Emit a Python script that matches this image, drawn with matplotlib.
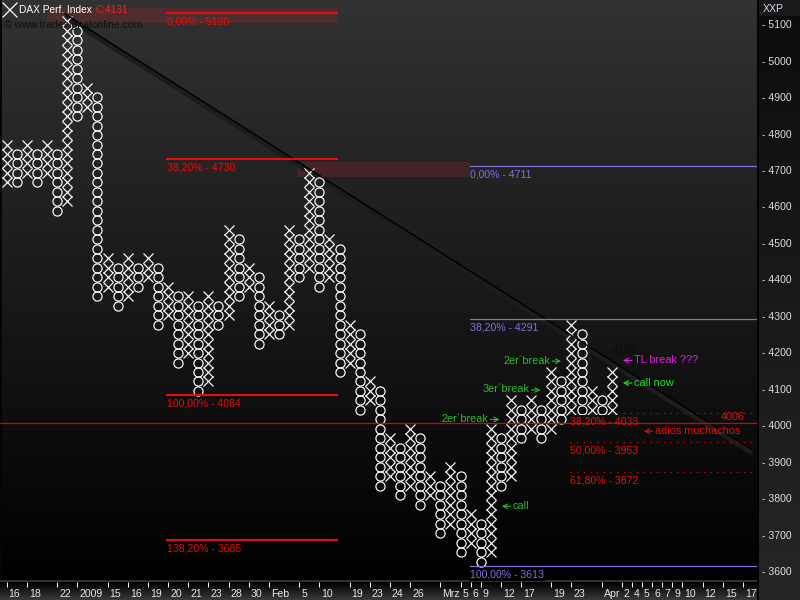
import numpy as np
import matplotlib
matplotlib.use("Agg")
import matplotlib.pyplot as plt
import matplotlib.transforms as mtransforms
from matplotlib.patches import Rectangle
from matplotlib.text import OffsetFrom

plt.rcParams['font.family'] = ['Liberation Sans', 'DejaVu Sans']

# ---------------- data ----------------
BOX = 26            # box size in index points
BASE = 3626         # price of box index 0
col_type = "XOXOXOXOXOXOXOXOXOXOXOXOXOXOXOXOXOXOXOXOXOXOXOXOXOXOXOXOXOXOX"
col_low = [40, 40, 41, 40, 41, 37, 38, 47, 48, 28,
           29, 27, 28, 29, 30, 25, 26, 21, 22, 18,
           19, 25, 26, 28, 29, 23, 24, 24, 25, 30,
           31, 29, 30, 20, 21, 16, 17, 8, 9, 7,
           8, 6, 7, 3, 4, 1, 2, 0, 1, 8,
           9, 13, 14, 13, 14, 15, 16, 15, 16, 15,
           16]
col_high = [44, 43, 44, 43, 44, 43, 57, 56, 50, 49,
            32, 31, 32, 31, 32, 31, 29, 28, 28, 27,
            28, 27, 35, 34, 31, 30, 27, 26, 35, 34,
            41, 40, 34, 33, 25, 24, 19, 18, 13, 12,
            14, 13, 9, 8, 10, 9, 5, 4, 14, 13,
            17, 16, 17, 16, 20, 19, 25, 24, 18, 17,
            20]

xtick_cols = [0, 2, 5, 7, 10, 12, 14, 16, 18, 20, 22, 24, 26, 29, 31, 34, 36, 38,
              40, 43, 45, 46, 47, 49, 51, 54, 56, 59, 61, 62, 63, 64, 65, 66, 67,
              69, 71, 73]
xtick_labels = ["16", "18", "22", "2009", "15", "16", "19", "20", "21", "23", "28",
                "30", "Feb", "5", "10", "19", "23", "24", "26", "Mrz", "5", "6", "9",
                "12", "17", "19", "23", "Apr", "2", "4", "5", "6", "7", "9", "10",
                "12", "15", "17"]
ytick_values = list(range(3600, 5101, 100))

red_fib_levels = [5130, 4730, 4084, 3685]
red_fib_pcts = ["0,00%", "38,20%", "100,00%", "138,20%"]
blue_fib_levels = [4711, 4291, 3613]
blue_fib_pcts = ["0,00%", "38,20%", "100,00%"]
dot_fib_levels = [4033, 3953, 3872]
dot_fib_pcts = ["38,20%", "50,00%", "61,80%"]
support_level = 4006
trend_cols = [5.8, 73.9]
trend_prices = [5128, 3932]
zone_lows = [5103, 4681]
zone_highs = [5145, 4722]

# ---------------- layout ----------------
W, H = 800, 600
PLOT_R, PLOT_B = 757, 582
X0, DX = 6.7, 10.085          # px of column 0, px per column
PY3600, SC = 571.0, 0.3645    # px of 3600, px per point

red_span = (15.9, 32.75)
blue_span = (45.94, (PLOT_R - X0) / DX)
dot_span = (55.9, (PLOT_R - X0) / DX)
zone_spans = [(4.0, 32.75), (28.8, 45.94)]

def bg_val(py):
    return max(0.0, 50 * (1 - py / 580.0)) / 255.0

def price_py(p):
    return PY3600 - (p - 3600) * SC

fig = plt.figure(figsize=(8, 6), dpi=100)

# background image (plot gradient + axis panels)
img = np.zeros((H, W, 3))
rows = np.arange(H)
pv = np.clip(50 * (1 - rows / 580.0), 0, 255) / 255.0
img[:580, :PLOT_R, :] = pv[:580, None, None]
img[:580, 0:2, :] = 0.02
img[:, PLOT_R:PLOT_R + 2, :] = 0.0
rv = (12 + 26 * rows / 600.0) / 255.0
img[:, PLOT_R + 2:, :] = rv[:, None, None]
img[0:16, PLOT_R + 2:, :] = 0.10
img[580:582, :PLOT_R, :] = 0.19
bv = (60 * (rows[582:] - 582) / 18.0) / 255.0
img[582:, :PLOT_R, :] = bv[:, None, None]
fig.figimage(img, xo=0, yo=0, origin='upper', zorder=-5)

ax = fig.add_axes([0, (H - PLOT_B) / H, PLOT_R / W, PLOT_B / H])
ax.set_zorder(1)
ax.set_facecolor('none')
for s in ax.spines.values():
    s.set_visible(False)
ax.set_xlim(-X0 / DX, (PLOT_R - X0) / DX)
ax.set_ylim(3600 - (PLOT_B - PY3600) / SC, 3600 + PY3600 / SC)

# zones
for (c0, c1), lo, hi in zip(zone_spans, zone_lows, zone_highs):
    ax.add_patch(Rectangle((c0, lo), c1 - c0, hi - lo, facecolor=(0.6, 0.15, 0.15),
                           alpha=0.28, edgecolor='none', zorder=1))

# trendline shadow + line
shadow = ax.transData + mtransforms.ScaledTranslation(0, -0.03, fig.dpi_scale_trans)
ax.plot(trend_cols, trend_prices, color='#1c1c1c', lw=3.5, transform=shadow,
        zorder=2, solid_capstyle='butt')

# P&F boxes
xs_x, ys_x, xs_o, ys_o = [], [], [], []
for i, t in enumerate(col_type[:len(col_low)]):
    for k in range(col_low[i], col_high[i] + 1):
        if t == 'X':
            xs_x.append(i); ys_x.append(BASE + BOX * k)
        else:
            xs_o.append(i); ys_o.append(BASE + BOX * k)
ax.plot(xs_x, ys_x, ls='none', marker='x', ms=6.8, mew=0.85, color='white', zorder=3)
ax.plot(xs_o, ys_o, ls='none', marker='o', ms=6.6, mew=0.85, mfc='none',
        mec='white', zorder=3)

ax.plot(trend_cols, trend_prices, color='black', lw=1.0, zorder=4)

RED = '#e80c0c'
PURPLE = '#7f70dc'
lab_off = mtransforms.ScaledTranslation(0, -0.035, fig.dpi_scale_trans)

def fib_label(x, lvl, txt, color, box=True):
    kw = {}
    if box:
        kw['bbox'] = dict(facecolor=[bg_val(price_py(lvl) + 9)] * 3, edgecolor='none',
                          pad=1.0)
    ax.text(x, lvl, txt, color=color, fontsize=7.6, ha='left', va='top',
            transform=ax.transData + lab_off, zorder=5, **kw)

for lvl, pct in zip(red_fib_levels, red_fib_pcts):
    ax.plot(red_span, [lvl, lvl], color=RED, lw=1.5, zorder=4)
    fib_label(red_span[0], lvl, f"{pct} - {lvl}", RED, box=(pct != "0,00%"))
for lvl, pct in zip(blue_fib_levels, blue_fib_pcts):
    ax.plot(blue_span, [lvl, lvl], color=PURPLE, lw=0.9, zorder=4)
    fib_label(blue_span[0], lvl, f"{pct} - {lvl}", PURPLE)
for lvl, pct in zip(dot_fib_levels, dot_fib_pcts):
    ax.plot(dot_span, [lvl, lvl], color=RED, lw=0.8, ls=(0, (1, 5)), zorder=4)
    fib_label(dot_span[0], lvl, f"{pct} - {lvl}", RED)

ax.axhline(support_level, color='#dd0000', lw=0.9, zorder=6)

# annotations: (words, column, price, arrow side, colour)
GREEN = '#2fb82f'
GREEN2 = '#22e022'
MAG = '#e020e0'
notes = [("2er´break", 53.87, 4177, 'right', GREEN),
         ("3er´break", 51.82, 4098, 'right', GREEN),
         ("2er´break", 47.76, 4017, 'right', GREEN),
         ("call", 50.2, 3779, 'left', GREEN),
         ("call now", 62.2, 4117, 'left', GREEN2),
         ("TL break ???", 62.2, 4179, 'left', MAG),
         ("adios muchachos", 64.28, 3985, 'left', RED)]
for txt, c, p, side, col in notes:
    if side == 'right':
        t = ax.text(c, p, txt, color=col, fontsize=7.8, ha='right', va='center',
                    zorder=7)
        ref = OffsetFrom(t, (1, 0.45))
        ax.annotate("", xy=(8.0, 0), xycoords=ref, xytext=(1.5, 0), textcoords=ref,
                    arrowprops=dict(arrowstyle='->', color=col, lw=0.8, shrinkA=0,
                                    shrinkB=0, mutation_scale=8), zorder=7)
    else:
        t = ax.text(c, p, txt, color=col, fontsize=7.8, ha='left', va='center',
                    zorder=7)
        ref = OffsetFrom(t, (0, 0.45))
        ax.annotate("", xy=(-8.0, 0), xycoords=ref, xytext=(-1.5, 0), textcoords=ref,
                    arrowprops=dict(arrowstyle='->', color=col, lw=0.8, shrinkA=0,
                                    shrinkB=0, mutation_scale=8), zorder=7)
ax.text(60.1, 4206, "4189", color='#0a0a0a', fontsize=7.8, ha='left', va='center',
        zorder=7)
ax.text(70.8, 4023, "4006", color=RED, fontsize=7.8, ha='left', va='center', zorder=7)

# axes ticks
ax.set_xticks(xtick_cols)
ax.set_xticklabels(xtick_labels)
ax.tick_params(axis='x', direction='out', length=3.6, width=0.7, color='white',
               pad=1.2, labelsize=7.6, labelcolor='#e6e6e6')
xoff = mtransforms.ScaledTranslation(0.02, 0, fig.dpi_scale_trans)
for lab in ax.get_xticklabels():
    lab.set_ha('left')
    lab.set_transform(lab.get_transform() + xoff)

ax.yaxis.tick_right()
ax.set_yticks(ytick_values)
ax.set_yticklabels([f"- {v}" for v in ytick_values])
ax.tick_params(axis='y', length=0, pad=3.4, labelsize=7.6, labelcolor='#dcdce8')

# header texts
def fx(px): return px / W
def fy(py): return 1 - py / H
fig.add_artist(plt.Line2D([fx(3), fx(17)], [fy(3), fy(17)], color='white', lw=0.9))
fig.add_artist(plt.Line2D([fx(3), fx(17)], [fy(17), fy(3)], color='white', lw=0.9))
t1 = fig.text(fx(19), fy(10), "DAX Perf. Index", color='white', fontsize=7.3,
              va='center')
ax.annotate("C:4131", xy=(1, 0.5), xycoords=t1, xytext=(2.5, 0),
            textcoords='offset points', color='#ff2020', fontsize=7.3,
            va='center', ha='left', annotation_clip=False)
fig.text(fx(4), fy(25), "© www.tradesignalonline.com", color='#101010', fontsize=7.6,
         va='center')
fig.text(fx(762.5), fy(9), "XXP", color='#d8d8e8', fontsize=7.6, va='center')

fig.savefig("out.png", dpi=100)
